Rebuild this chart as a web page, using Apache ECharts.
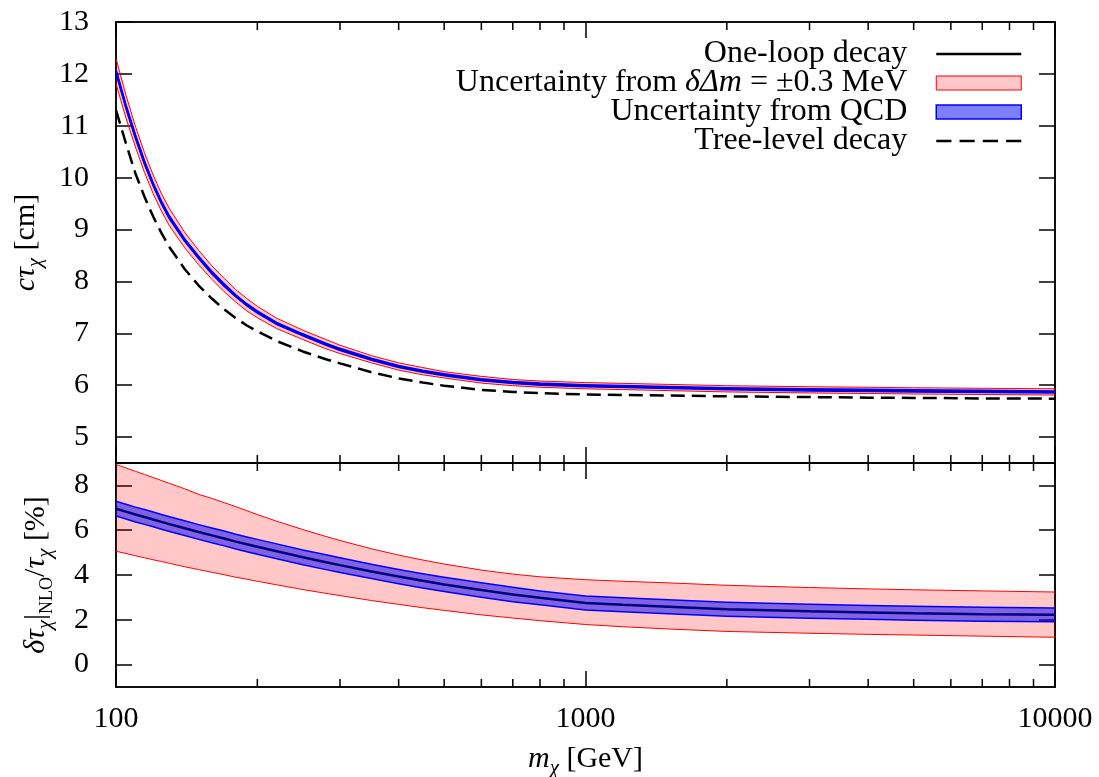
<!DOCTYPE html>
<html>
<head>
<meta charset="utf-8">
<script src="https://cdn.jsdelivr.net/npm/echarts@6/dist/echarts.min.js"></script>
<style>
  html, body { margin: 0; padding: 0; background: #fff; }
  #main { width: 1099px; height: 777px; }
</style>
</head>
<body>
<div id="main"></div>
<script>
// m_chi [GeV]
var mass = [100, 105, 110, 115, 120, 125, 130, 140, 150, 160, 170, 180, 190, 200, 220, 250, 280, 300, 350, 400, 450, 500, 600, 700, 800, 1000, 1200, 1500, 2000, 3000, 4000, 5000, 7000, 10000];

// top panel: c tau [cm]
var oneLoop   = [12.05, 11.37, 10.79, 10.29, 9.87, 9.52, 9.23, 8.8, 8.46, 8.17, 7.93, 7.72, 7.55, 7.41, 7.19, 6.97, 6.79, 6.69, 6.5, 6.36, 6.27, 6.2, 6.105, 6.05, 6.02, 5.99, 5.975, 5.955, 5.93, 5.91, 5.9, 5.89, 5.88, 5.87];
var treeLevel = [11.3, 10.66, 10.08, 9.63, 9.25, 8.93, 8.66, 8.24, 7.92, 7.67, 7.46, 7.29, 7.15, 7.04, 6.85, 6.65, 6.5, 6.42, 6.25, 6.13, 6.05, 5.99, 5.91, 5.87, 5.845, 5.82, 5.81, 5.8, 5.785, 5.77, 5.76, 5.755, 5.745, 5.74];
var redTopLo  = [11.81, 11.15, 10.59, 10.1, 9.69, 9.35, 9.07, 8.65, 8.32, 8.04, 7.8, 7.6, 7.43, 7.3, 7.09, 6.88, 6.7, 6.61, 6.43, 6.29, 6.2, 6.14, 6.04, 5.99, 5.96, 5.93, 5.915, 5.895, 5.87, 5.85, 5.84, 5.83, 5.82, 5.81];
var redTopHi  = [12.3, 11.59, 10.99, 10.48, 10.05, 9.69, 9.4, 8.95, 8.6, 8.3, 8.06, 7.84, 7.67, 7.52, 7.29, 7.06, 6.88, 6.77, 6.57, 6.43, 6.34, 6.26, 6.17, 6.11, 6.08, 6.05, 6.035, 6.015, 5.99, 5.97, 5.96, 5.95, 5.94, 5.93];
var blueTopLo = [12.01, 11.33, 10.755, 10.255, 9.84, 9.49, 9.2, 8.775, 8.435, 8.145, 7.905, 7.7, 7.53, 7.39, 7.17, 6.95, 6.77, 6.67, 6.48, 6.34, 6.25, 6.18, 6.085, 6.03, 6.0, 5.97, 5.955, 5.935, 5.91, 5.89, 5.88, 5.87, 5.86, 5.85];
var blueTopHi = [12.09, 11.41, 10.825, 10.325, 9.9, 9.55, 9.26, 8.825, 8.485, 8.195, 7.955, 7.74, 7.57, 7.43, 7.21, 6.99, 6.81, 6.71, 6.52, 6.38, 6.29, 6.22, 6.125, 6.07, 6.04, 6.01, 5.995, 5.975, 5.95, 5.93, 5.92, 5.91, 5.9, 5.89];

// bottom panel: delta tau / tau [%]
var deltaNlo  = [6.96, 6.83, 6.7, 6.59, 6.48, 6.37, 6.27, 6.09, 5.92, 5.77, 5.63, 5.49, 5.37, 5.26, 5.06, 4.79, 4.57, 4.44, 4.16, 3.93, 3.74, 3.58, 3.33, 3.13, 2.98, 2.75, 2.67, 2.58, 2.47, 2.38, 2.33, 2.29, 2.25, 2.22];
var redBotLo  = [5.06, 4.96, 4.86, 4.77, 4.68, 4.6, 4.52, 4.37, 4.24, 4.12, 4.01, 3.9, 3.81, 3.72, 3.56, 3.35, 3.18, 3.08, 2.86, 2.69, 2.54, 2.42, 2.22, 2.08, 1.96, 1.79, 1.69, 1.59, 1.48, 1.4, 1.35, 1.32, 1.27, 1.22];
var redBotHi  = [8.94, 8.78, 8.63, 8.49, 8.35, 8.22, 8.09, 7.85, 7.6, 7.42, 7.23, 7.05, 6.87, 6.7, 6.4, 6.03, 5.72, 5.54, 5.17, 4.89, 4.67, 4.49, 4.22, 4.04, 3.92, 3.79, 3.72, 3.65, 3.54, 3.44, 3.38, 3.34, 3.29, 3.24];
var blueBotLo = [6.63, 6.5, 6.37, 6.26, 6.15, 6.04, 5.94, 5.76, 5.59, 5.44, 5.3, 5.16, 5.04, 4.93, 4.73, 4.46, 4.24, 4.11, 3.84, 3.61, 3.42, 3.26, 3.01, 2.81, 2.67, 2.44, 2.36, 2.27, 2.16, 2.07, 2.02, 1.98, 1.94, 1.91];
var blueBotHi = [7.29, 7.16, 7.03, 6.92, 6.81, 6.7, 6.6, 6.42, 6.25, 6.1, 5.96, 5.82, 5.7, 5.59, 5.39, 5.12, 4.9, 4.77, 4.48, 4.25, 4.06, 3.9, 3.65, 3.45, 3.29, 3.06, 2.98, 2.89, 2.78, 2.69, 2.64, 2.6, 2.56, 2.53];

// ticks
var topTicks = [5, 6, 7, 8, 9, 10, 11, 12, 13];
var botTicks = [0, 2, 4, 6, 8];
var minorX = [200, 300, 400, 500, 600, 700, 800, 900, 2000, 3000, 4000, 5000, 6000, 7000, 8000, 9000];

var FONT = 'Liberation Serif';
var LOOP = 'One-loop decay';
var RED = 'Uncertainty from δΔm = ±0.3 MeV';
var QCD = 'Uncertainty from QCD';
var TREE = 'Tree-level decay';

function pairs(arr) {
  return mass.map(function (m, i) { return [m, arr[i]]; });
}

// filled band between lo and hi, with its two edge lines
function band(name, gi, lo, hi, fill, edge, edgeW, z) {
  return {
    type: 'custom', name: name, xAxisIndex: gi * 2, yAxisIndex: gi * 2, z: z, silent: true, clip: true,
    data: [[mass[0], lo[0]]],
    renderItem: function (params, api) {
      var top = mass.map(function (m, i) { return api.coord([m, hi[i]]); });
      var bot = mass.map(function (m, i) { return api.coord([m, lo[i]]); });
      return {
        type: 'group', children: [
          { type: 'polygon', shape: { points: top.concat(bot.slice().reverse()) }, style: { fill: fill } },
          { type: 'polyline', shape: { points: top }, style: { stroke: edge, lineWidth: edgeW, fill: null } },
          { type: 'polyline', shape: { points: bot }, style: { stroke: edge, lineWidth: edgeW, fill: null } }
        ]
      };
    }
  };
}

// minor log ticks on top and bottom edge of a panel
function minorTicks(gi) {
  return {
    type: 'custom', xAxisIndex: gi * 2, yAxisIndex: gi * 2, z: 10, silent: true,
    data: minorX.map(function (v) { return [v, gi === 0 ? 5 : 0]; }),
    renderItem: function (params, api) {
      var cs = params.coordSys;
      var x = api.coord([api.value(0), api.value(1)])[0];
      var st = { stroke: '#000', lineWidth: 1.5 };
      return {
        type: 'group', children: [
          { type: 'line', shape: { x1: x, y1: cs.y, x2: x, y2: cs.y + 8 }, style: st },
          { type: 'line', shape: { x1: x, y1: cs.y + cs.height, x2: x, y2: cs.y + cs.height - 8 }, style: st }
        ]
      };
    }
  };
}

var axLine = { show: true, onZero: false, lineStyle: { color: '#000', width: 1.5 } };
var majTick = { show: true, inside: true, length: 16, lineStyle: { color: '#000', width: 1.5 } };
var lbl = { color: '#000', fontFamily: FONT, fontSize: 30 };

var nameRich = {
  i: { fontFamily: FONT, fontSize: 30, fontStyle: 'italic', lineHeight: 40, color: '#000' },
  s: { fontFamily: FONT, fontSize: 21, fontStyle: 'italic', lineHeight: 22, verticalAlign: 'bottom', color: '#000' },
  sc: { fontFamily: FONT, fontSize: 18, lineHeight: 22, verticalAlign: 'bottom', color: '#000' },
  n: { fontFamily: FONT, fontSize: 30, lineHeight: 40, color: '#000' }
};

function xAx(gi, pos, showLabel, name) {
  var a = {
    type: 'log', logBase: 10, gridIndex: gi, position: pos, min: 100, max: 10000,
    axisLine: axLine, axisTick: majTick, splitLine: { show: false },
    axisLabel: Object.assign({ show: showLabel, margin: 17, formatter: function (v) { return String(v); } }, lbl)
  };
  if (name) {
    a.name = name;
    a.nameLocation = 'middle';
    a.nameGap = 52;
    a.nameTextStyle = { color: '#000', fontFamily: FONT, fontSize: 30, rich: nameRich };
  }
  return a;
}

function yAx(gi, pos, min, max, ticks, showLabel, name, gap) {
  var a = {
    type: 'value', gridIndex: gi, position: pos, min: min, max: max,
    axisLine: axLine, splitLine: { show: false },
    axisTick: Object.assign({ customValues: ticks }, majTick),
    axisLabel: Object.assign({ show: showLabel, margin: 27, customValues: ticks }, lbl)
  };
  if (name) {
    a.name = name;
    a.nameLocation = 'middle';
    a.nameGap = gap;
    a.nameTextStyle = { color: '#000', fontFamily: FONT, fontSize: 30, rich: nameRich };
  }
  return a;
}

var series = [
  // top panel
  band(RED, 0, redTopLo, redTopHi, 'rgba(255,0,0,0.22)', '#ff0000', 1, 2),
  {
    type: 'line', name: LOOP, xAxisIndex: 0, yAxisIndex: 0, data: pairs(oneLoop),
    symbol: 'none', z: 3, lineStyle: { color: '#000', width: 2 }, itemStyle: { color: '#000' }
  },
  band(QCD, 0, blueTopLo, blueTopHi, 'rgba(0,0,255,0.5)', '#0000ff', 1.5, 4),
  {
    type: 'line', name: TREE, xAxisIndex: 0, yAxisIndex: 0, data: pairs(treeLevel),
    symbol: 'none', z: 5, lineStyle: { color: '#000', width: 2.5, type: [14, 7] }, itemStyle: { color: '#000' }
  },
  // bottom panel
  band(RED, 1, redBotLo, redBotHi, 'rgba(255,0,0,0.22)', '#ff0000', 1, 2),
  {
    type: 'line', name: LOOP, xAxisIndex: 2, yAxisIndex: 2, data: pairs(deltaNlo),
    symbol: 'none', z: 3, lineStyle: { color: '#000', width: 2.5 }, itemStyle: { color: '#000' }
  },
  band(QCD, 1, blueBotLo, blueBotHi, 'rgba(0,0,255,0.5)', '#0000ff', 1.5, 4),
  minorTicks(0),
  minorTicks(1)
];

var option = {
  backgroundColor: '#fff',
  animation: false,
  grid: [
    { left: 116, top: 22, width: 939, height: 441, show: true, borderColor: '#000', borderWidth: 1.5, outerBoundsMode: 'none' },
    { left: 116, top: 463, width: 939, height: 224, show: true, borderColor: '#000', borderWidth: 1.5, outerBoundsMode: 'none' }
  ],
  xAxis: [
    xAx(0, 'bottom', false), xAx(0, 'top', false),
    xAx(1, 'bottom', true, '{i|m}{s|χ}{n| [GeV]}'), xAx(1, 'top', false)
  ],
  yAxis: [
    yAx(0, 'left', 4.5, 13, topTicks, true, '{i|cτ}{s|χ}{n| [cm]}', 70),
    yAx(0, 'right', 4.5, 13, topTicks, false),
    yAx(1, 'left', -1, 9, botTicks, true, '{i|δτ}{s|χ}{n||}{sc|NLO}{n|/}{i|τ}{s|χ}{n| [%]}', 60),
    yAx(1, 'right', -1, 9, botTicks, false)
  ],
  legend: {
    orient: 'vertical', align: 'right', right: 72, top: 33, z: 20,
    itemWidth: 85, itemHeight: 14, itemGap: -3,
    selectedMode: false,
    data: [
      { name: LOOP, icon: 'path://M0,0H85V2.4H0Z', itemStyle: { color: '#000' } },
      { name: RED, icon: 'rect', itemStyle: { color: 'rgba(255,0,0,0.22)', borderColor: '#ff0000', borderWidth: 1 } },
      { name: QCD, icon: 'rect', itemStyle: { color: 'rgba(0,0,255,0.5)', borderColor: '#0000ff', borderWidth: 1.5 } },
      { name: TREE, icon: 'path://M0,0H15V2.4H0Z M23,0H38V2.4H23Z M46,0H61V2.4H46Z M69,0H84V2.4H69Z', itemStyle: { color: '#000' } }
    ],
    formatter: function (name) {
      if (name === RED) return '{n|Uncertainty from }{i|δΔm}{n| = ±0.3 MeV}';
      return '{n|' + name + '}';
    },
    textStyle: {
      color: '#000', fontFamily: FONT, fontSize: 32, lineHeight: 28, padding: [0, 24, 0, 0],
      rich: {
        n: { fontFamily: FONT, fontSize: 32, lineHeight: 28, color: '#000' },
        i: { fontFamily: FONT, fontSize: 32, lineHeight: 28, fontStyle: 'italic', color: '#000' }
      }
    }
  },
  series: series
};

var myChart = echarts.init(document.getElementById('main'));
myChart.setOption(option);
</script>
</body>
</html>
